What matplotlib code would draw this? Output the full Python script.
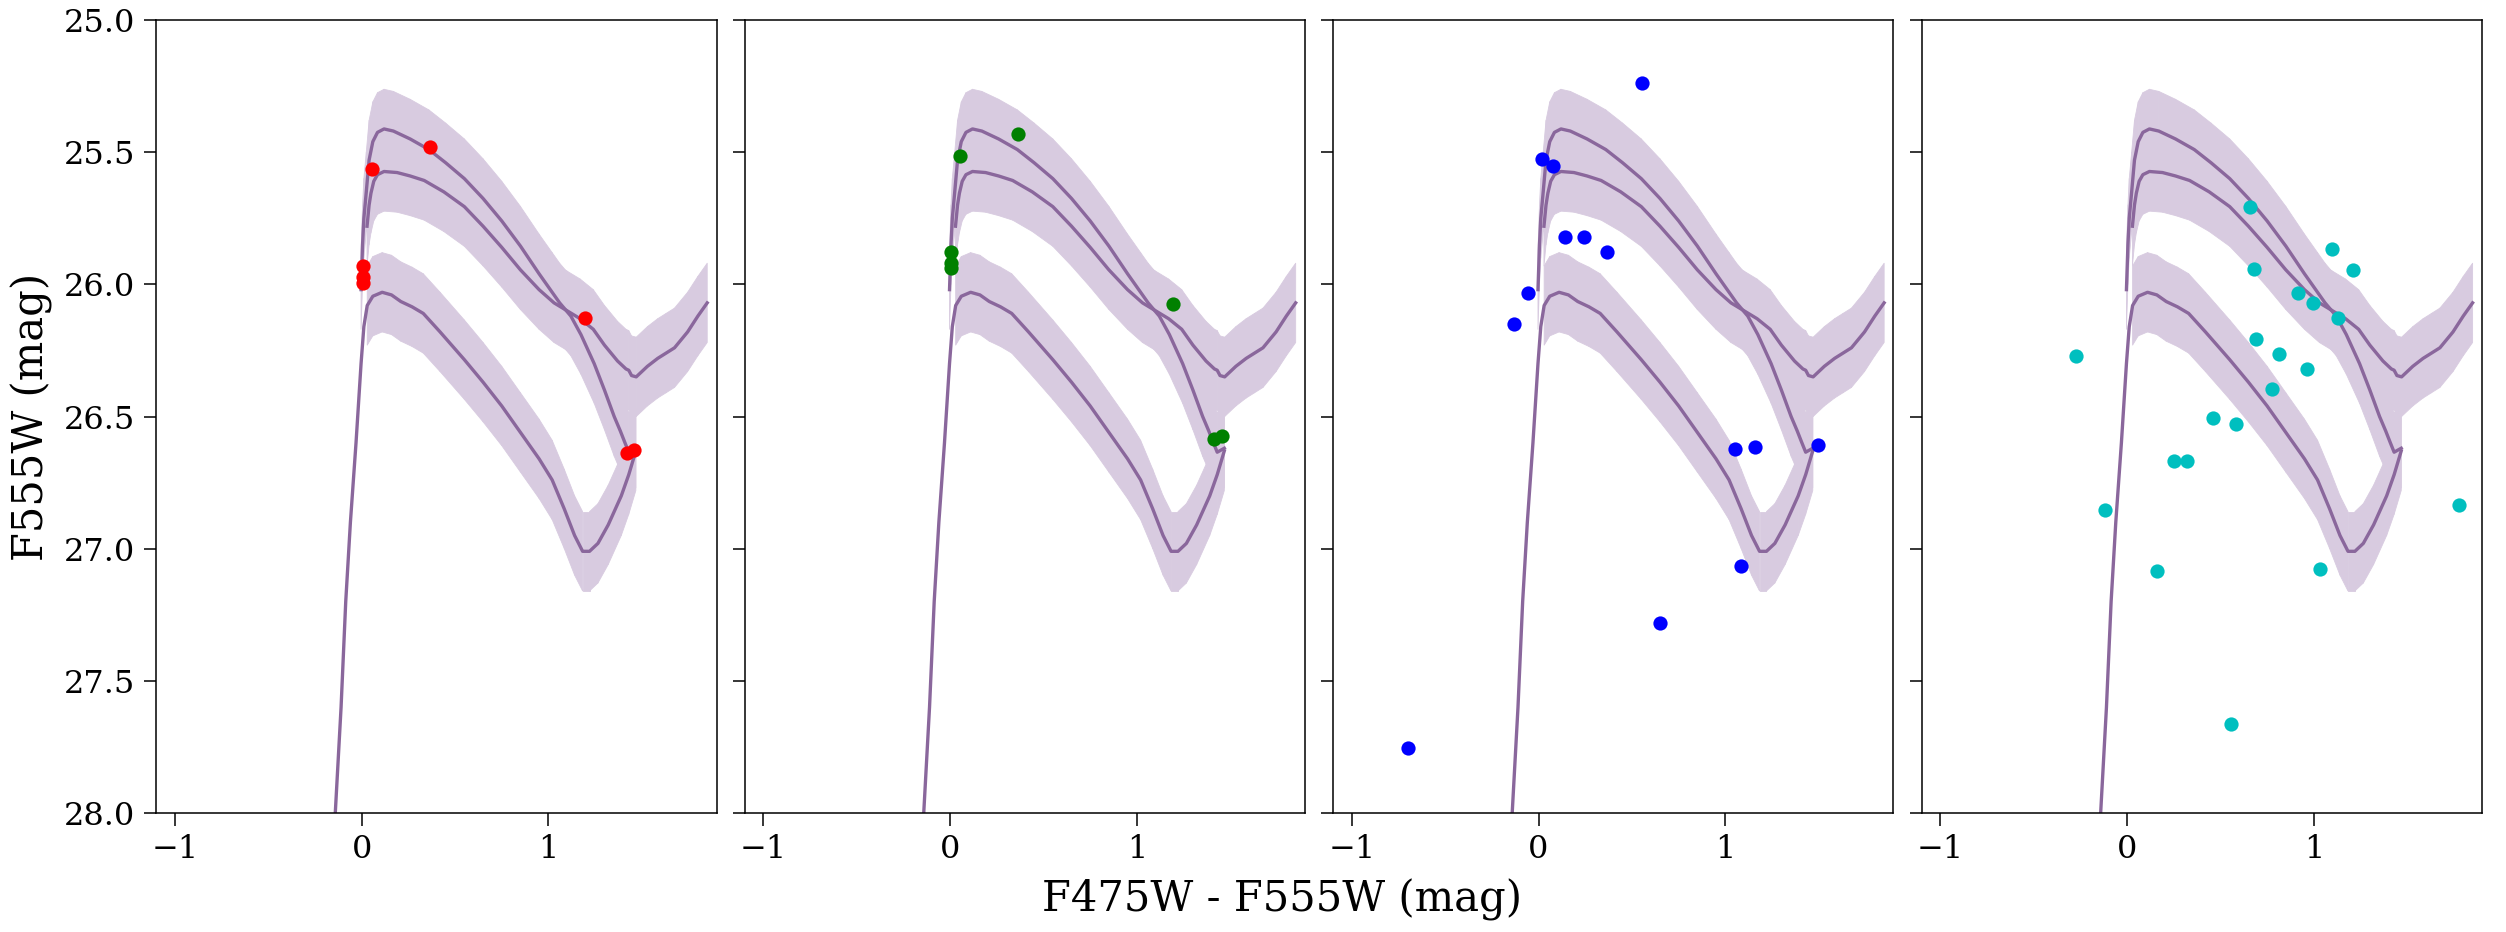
import numpy as np
import matplotlib
matplotlib.use("Agg")
import matplotlib.pyplot as plt
from matplotlib.collections import PolyCollection

# isochrone tracks (colour, magnitude)
iso_a_x = [-0.003, 0.005, 0.012, 0.025, 0.04, 0.06, 0.085, 0.12, 0.17, 0.26, 0.36,
           0.45, 0.55, 0.65, 0.75, 0.85, 0.95, 1.02, 1.06, 1.12, 1.174, 1.245,
           1.30, 1.352, 1.385, 1.41, 1.43, 1.468]
iso_a_y = [26.02, 25.85, 25.75, 25.65, 25.53, 25.46, 25.425, 25.412, 25.42, 25.45, 25.49,
           25.54, 25.60, 25.675, 25.76, 25.855, 25.96, 26.03, 26.07, 26.12, 26.19, 26.30,
           26.40, 26.50, 26.555, 26.60, 26.635, 26.62]

iso_b_x = [0.029, 0.04, 0.05, 0.065, 0.085, 0.12, 0.19, 0.26, 0.335, 0.44, 0.55,
           0.65, 0.75, 0.85, 0.95, 1.03, 1.10, 1.17, 1.24, 1.30, 1.37, 1.415, 1.43,
           1.445, 1.47, 1.53, 1.585, 1.63, 1.675, 1.745, 1.80, 1.85]
iso_b_y = [25.78, 25.70, 25.655, 25.61, 25.585, 25.573, 25.577, 25.59, 25.607, 25.65, 25.706,
           25.78, 25.86, 25.945, 26.02, 26.07, 26.10, 26.13, 26.17, 26.23, 26.29, 26.32, 26.325,
           26.345, 26.35, 26.31, 26.28, 26.26, 26.24, 26.18, 26.12, 26.07]

iso_c_x = [-0.141, -0.11, -0.085, -0.06, -0.03, -0.003, 0.012, 0.03, 0.06, 0.11, 0.16,
           0.21, 0.27, 0.33, 0.42, 0.55, 0.65, 0.75, 0.85, 0.95, 1.02, 1.085, 1.14,
           1.183, 1.22, 1.265, 1.32, 1.39, 1.43, 1.468]
iso_c_y = [28.0, 27.6, 27.2, 26.9, 26.6, 26.3, 26.16, 26.08, 26.045, 26.03, 26.04,
           26.065, 26.085, 26.11, 26.18, 26.285, 26.37, 26.46, 26.56, 26.66, 26.74, 26.85, 26.95,
           27.01, 27.01, 26.98, 26.91, 26.80, 26.72, 26.63]
iso_c_band_start = 7   # shaded band only on the upper part of track C

mag_err = 0.15

# observed stars, one group per panel
red_x = [0.055, 0.365, 0.006, 0.006, 0.006, 1.198, 1.419, 1.46]
red_y = [25.564, 25.48, 25.93, 25.973, 25.993, 26.129, 26.638, 26.627]

green_x = [0.055, 0.364, 0.005, 0.005, 0.003, 1.195, 1.415, 1.457]
green_y = [25.514, 25.431, 25.879, 25.92, 25.94, 26.075, 26.585, 26.575]

blue_x = [0.556, 0.020, 0.080, 0.144, 0.242, 0.367, -0.058, -0.133, 1.051, 1.158,
          1.498, 1.082, 0.651, -0.700]
blue_y = [25.240, 25.527, 25.552, 25.821, 25.819, 25.876, 26.032, 26.151, 26.623, 26.617,
          26.609, 27.064, 27.282, 27.756]

cyan_x = [0.656, 1.100, 0.680, 1.210, 0.914, 0.993, 1.131, 0.691, 0.811, 0.966, 0.774,
          -0.275, 0.463, 0.585, 0.254, 0.323, -0.116, 1.779, 0.161, 1.032, 0.558]
cyan_y = [25.708, 25.866, 25.942, 25.944, 26.032, 26.071, 26.129, 26.205, 26.262, 26.322,
          26.397, 26.272, 26.504, 26.529, 26.668, 26.668, 26.855, 26.833, 27.085, 27.077, 27.664]

groups = [(red_x, red_y, "r"), (green_x, green_y, "g"),
          (blue_x, blue_y, "b"), (cyan_x, cyan_y, "c")]

line_color = "#8a679c"
band_color = "#d8cbe0"

plt.rcParams["font.family"] = ["DejaVu Serif"]


def band_polys(xs, ys, d):
    """Quads swept by each segment shifted +-d in magnitude."""
    polys = []
    for i in range(len(xs) - 1):
        x0, x1 = xs[i], xs[i + 1]
        y0, y1 = ys[i], ys[i + 1]
        polys.append([(x0, y0 - d), (x1, y1 - d), (x1, y1 + d), (x0, y0 + d)])
    return polys


fig, axes = plt.subplots(1, 4, figsize=(25.06, 9.32), dpi=100, sharey=True)
fig.subplots_adjust(left=0.0623, right=0.9904, top=0.9785, bottom=0.1277, wspace=0.05)

tracks = [(iso_a_x, iso_a_y, 0), (iso_b_x, iso_b_y, 0),
          (iso_c_x, iso_c_y, iso_c_band_start)]

for ax, (px, py, col) in zip(axes, groups):
    for tx, ty, start in tracks:
        pc = PolyCollection(band_polys(tx[start:], ty[start:], mag_err),
                            facecolors=band_color, edgecolors=band_color,
                            linewidths=0.6, zorder=1)
        ax.add_collection(pc)
    for tx, ty, start in tracks:
        ax.plot(tx, ty, color=line_color, lw=2.4, zorder=2)
    ax.scatter(px, py, s=105, color=col, zorder=3, linewidths=0)

    ax.set_xlim(-1.1, 1.9)
    ax.set_xticks([-1, 0, 1])
    ax.tick_params(axis="both", which="major", direction="out", length=9,
                   width=1.1, labelsize=23, pad=6)
    for sp in ax.spines.values():
        sp.set_linewidth(1.1)

axes[0].set_ylim(28.0, 25.0)
axes[0].set_yticks([25.0, 25.5, 26.0, 26.5, 27.0, 27.5, 28.0])
axes[0].set_ylabel("F555W (mag)", fontsize=30, labelpad=8)
fig.text(0.5116, 0.035, "F475W - F555W (mag)", fontsize=30, ha="center", va="center")

fig.savefig("out.png", dpi=100)
